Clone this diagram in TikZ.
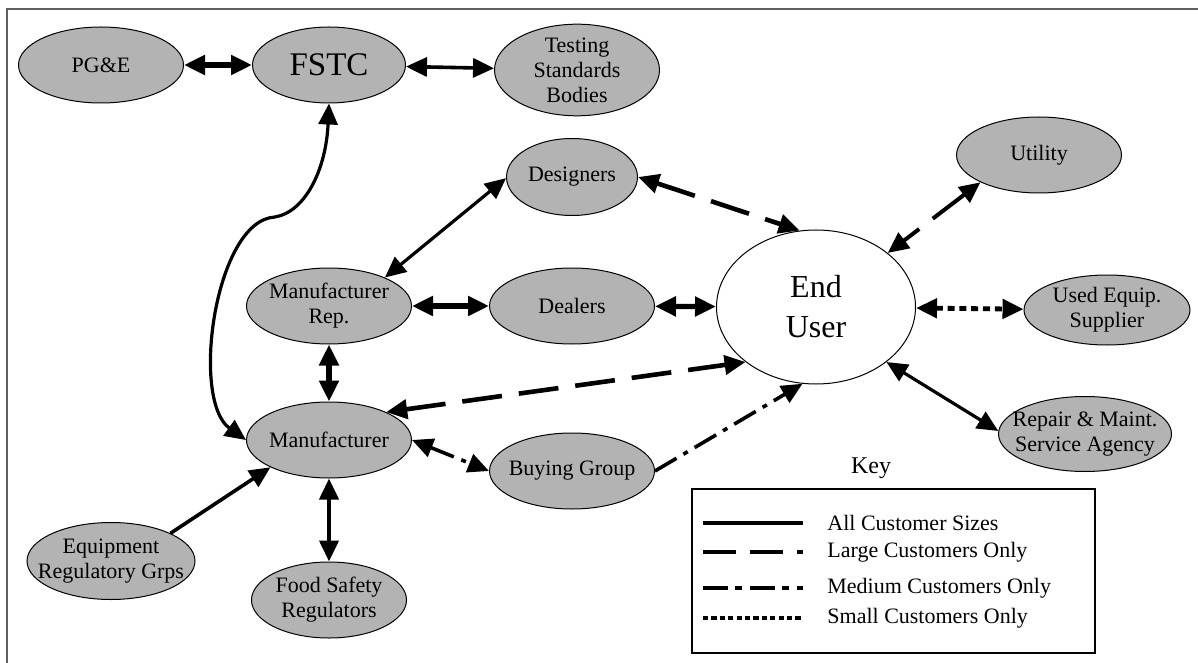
\documentclass[tikz,border=0pt]{standalone}
\usepackage{fontspec}
\setmainfont{Liberation Serif}
\usetikzlibrary{arrows.meta,shapes.geometric}
\definecolor{entfill}{HTML}{B3B3B3}
\definecolor{framegray}{HTML}{5F5F5F}
\tikzset{
  ent/.style={ellipse, draw, fill=entfill, line width=0.5pt,
              inner xsep=-20pt, inner ysep=0pt,
              minimum width=82.5pt, minimum height=38pt, align=center,
              font=\fontsize{11}{12.5}\selectfont},
  enduser/.style={ent, fill=white, minimum width=99.5pt, minimum height=77pt,
              font=\fontsize{16}{20}\selectfont},
  allsize/.style={line width=1.8pt},
  largecust/.style={line width=2.3pt, dash pattern=on 20pt off 8.5pt},
  medcust/.style={line width=1.8pt, dash pattern=on 12.5pt off 4pt on 2.5pt off 4pt},
  smallcust/.style={line width=2.4pt, dash pattern=on 3.5pt off 2.4pt},
  keyall/.style={line width=1.7pt},
  keylarge/.style={line width=1.7pt, dash pattern=on 16.5pt off 7pt},
  keymed/.style={line width=1.7pt, dash pattern=on 12.5pt off 3.5pt on 3.5pt off 4pt},
  keysmall/.style={line width=2pt, dash pattern=on 2.6pt off 1.6pt},
  keytext/.style={anchor=west, inner sep=0pt, font=\fontsize{11}{13}\selectfont},
}

\begin{document}
\begin{tikzpicture}[x=0.5pt, y=-0.5pt, >={Triangle[length=10.5pt,width=9.5pt]}]
  \useasboundingbox (0,0) rectangle (1198,663);
  \draw[line width=1pt, framegray] (1198,9) -- (7,9) -- (7,663);

  % entities
  \node[ent] (pge) at (101,65) {PG\&E};
  \node[ent, minimum width=76.5pt, font=\fontsize{16.5}{20}\selectfont] (fstc) at (329,65) {FSTC};
  \node[ent, minimum height=42pt] (tsb) at (577,70) {Testing\\Standards\\Bodies};
  \node[ent, minimum width=65.5pt, minimum height=38.5pt] (des) at (572,177) {Designers};
  \node[ent] (util) at (1039,155) {Utility};
  \node[ent] (mrep) at (329,306) {Manufacturer\\Rep.};
  \node[ent] (deal) at (572,306) {Dealers};
  \node[enduser] (user) at (816,307) {End\\User};
  \node[ent, minimum width=83pt, minimum height=35pt] (used) at (1107,310) {Used Equip.\\Supplier};
  \node[ent, minimum width=86.5pt, minimum height=37.5pt] (rep) at (1085,434) {Repair \& Maint.\\Service Agency};
  \node[ent] (man) at (329,440) {Manufacturer};
  \node[ent] (buy) at (572,471) {Buying Group};
  \node[ent, minimum width=84pt, minimum height=38.5pt] (erg) at (111,561) {Equipment\\Regulatory Grps};
  \node[ent, minimum width=77.5pt] (fsr) at (329,600) {Food Safety\\Regulators};

  % links
  \draw[allsize, <->, line width=2.6pt] (pge) -- (fstc);
  \draw[allsize, <->] (fstc) -- (tsb);
  \draw[allsize, <->, line width=1.6pt] (fstc.south) .. controls (326,170) and (305,212) .. (275,217)
    .. controls (215,220) and (190,400) .. (man.west);
  \draw[allsize, <->, line width=1.6pt] (mrep.27) -- (des.181);
  \draw[allsize, <->, line width=2.6pt] (mrep) -- (deal);
  \draw[allsize, <->, line width=2.6pt] (deal) -- (user);
  \draw[largecust, <->] (des.east) -- (user.102);
  \draw[largecust, <->, line width=2pt] (util.205) -- (user.37);
  \draw[smallcust, <->] (user) -- (used);
  \draw[allsize, <->, line width=1.6pt] (user.322) -- (rep.178);
  \draw[allsize, <->, line width=2.8pt] (mrep) -- (man);
  \draw[largecust, <->] (man.26) -- (user.218);
  \draw[medcust, <->] (man.east) -- (buy.west);
  \draw[medcust, ->] (buy.east) -- (user.260);
  \draw[allsize, ->] (erg.25) -- (man.205);
  \draw[allsize, <->, line width=2pt] (man) -- (fsr);

  % key
  \node[font=\fontsize{12}{14}\selectfont] (key) at (871,468) {Key};
  \draw[line width=0.6pt] (692,489) rectangle (1095,653);
  \foreach \y/\sty/\txt in {523/keyall/All Customer Sizes,
                            552/keylarge/Large Customers Only,
                            588/keymed/Medium Customers Only,
                            618/keysmall/Small Customers Only} {
    \draw[\sty] (703,\y) -- (803,\y);
    \node[keytext] (lbl\y) at (827,\y) {\txt};
  }
\end{tikzpicture}
\end{document}
